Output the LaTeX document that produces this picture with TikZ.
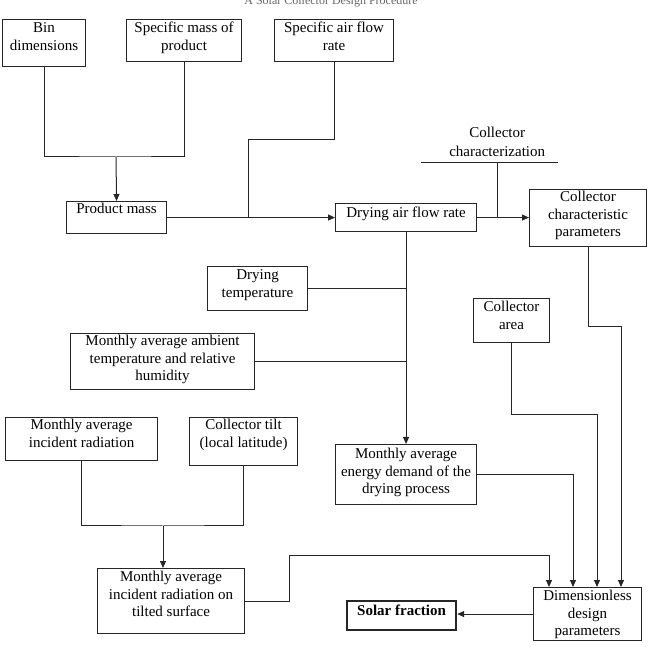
\documentclass[tikz,border=0pt]{standalone}
\usepackage{fontspec}
\setmainfont{Liberation Serif}
\usetikzlibrary{arrows.meta}
\newcommand\bxt[4]{\parbox[c][#2pt][t]{#1pt}{\centering\rule{0pt}{#3pt}#4}}
\begin{document}
\begin{tikzpicture}[x=1pt,y=-1pt,
  box/.style={draw=black!85, line width=1.1pt, inner sep=0pt, anchor=north west,
    font=\fontsize{15}{17.5}\selectfont},
  plain/.style={inner sep=0pt, anchor=north west, font=\fontsize{15}{17.5}\selectfont},
  conn/.style={draw=black!85, line width=1pt},
  arr/.style={conn, -{Triangle[length=7pt,width=6pt]}}]
\useasboundingbox (0,0) rectangle (649,647);
\clip (0,0) rectangle (649,647);
% heading (cut off at top)
\node[font=\fontsize{12}{14}\selectfont, text=black!60, anchor=base, inner sep=0pt] (head) at (331,5) {A Solar Collector Design Procedure};
% boxes
\node[box] (bin)  at (2,19)   {\bxt{83}{47}{13.4}{Bin\\dimensions}};
\node[box] (mass) at (126,19) {\bxt{115}{42}{13.4}{Specific mass of\\product}};
\node[box] (air)  at (274,19) {\bxt{119}{42}{13.4}{Specific air flow\\rate}};
\node[box] (pm)   at (66,201) {\bxt{100}{32}{12.4}{Product mass}};
\node[box] (dafr) at (335,203) {\bxt{141}{28}{14.4}{Drying air flow rate}};
\node[box] (ccp)  at (529,189) {\bxt{117}{57}{12.4}{Collector\\characteristic\\parameters}};
\node[box] (dt)   at (207,266) {\bxt{100}{44}{13.4}{Drying\\temperature}};
\node[box] (ca)   at (473,298) {\bxt{76}{44}{13.4}{Collector\\area}};
\node[box] (amb)  at (70,333)  {\bxt{184}{56}{12.4}{Monthly average ambient\\temperature and relative\\humidity}};
\node[box] (inc)  at (5,417)   {\bxt{152}{43}{12.4}{Monthly average\\incident radiation}};
\node[box] (tilt) at (189,417) {\bxt{108}{48}{12.4}{Collector tilt\\(local latitude)}};
\node[box] (ed)   at (335,444) {\bxt{141}{60}{14.4}{Monthly average\\energy demand of the\\drying process}};
\node[box] (ts)   at (97,568)  {\bxt{147}{65}{13.4}{Monthly average\\incident radiation on\\tilted surface}};
\node[box, line width=2.2pt] (sf) at (346,600) {\bxt{109}{29}{14.4}{\textbf{Solar fraction}}};
\node[box] (ddp)  at (533,587) {\bxt{108}{53}{13.4}{Dimensionless\\design\\parameters}};
\node[plain] (cchar) at (437,124) {\bxt{120}{36}{13.4}{Collector\\[1.5pt]characterization}};
% coordinates
\coordinate (j1) at (116,157);
\coordinate (b2) at (248,140);
\coordinate (j2) at (248,217);
\coordinate (ul1) at (421,163);
\coordinate (ul2) at (558,163);
\coordinate (j3) at (497,163);
\coordinate (c1) at (621,327);
\coordinate (c2) at (597,415);
\coordinate (x573) at (573,0);
\coordinate (c4a) at (289,555);
\coordinate (c4b) at (549,555);
\coordinate (j4) at (163,526);
% connectors
\draw[conn] (bin.south) |- (j1) -| (mass.south);
\draw[arr] (j1) -- (pm.north);
\draw[conn] (air.south) |- (b2) -- (j2);
\draw[arr] (pm.east) -- (dafr.west);
\draw[arr] (dafr.east) -- (dafr.east -| ccp.west);
\draw[conn] (ul1) -- (ul2);
\draw[conn] (j3) -- (j3 |- dafr.east);
\draw[arr] (dafr.south) -- (ed.north);
\draw[conn] (dt.east) -- (dt.east -| dafr.south);
\draw[conn] (amb.east) -- (amb.east -| dafr.south);
\draw[arr] (ccp.south) |- (c1) -- (c1 |- ddp.north);
\draw[arr] (ca.south) |- (c2) -- (c2 |- ddp.north);
\draw[arr] (ed.east) -| (x573 |- ddp.north);
\draw[arr] (ts.east) -| (c4a) -- (c4b) -- (c4b |- ddp.north);
\draw[conn] (inc.south) |- (j4) -| (tilt.south);
\draw[arr] (j4) -- (j4 |- ts.north);
\draw[arr] (ddp.west) -- (ddp.west -| sf.east);
\end{tikzpicture}
\end{document}
